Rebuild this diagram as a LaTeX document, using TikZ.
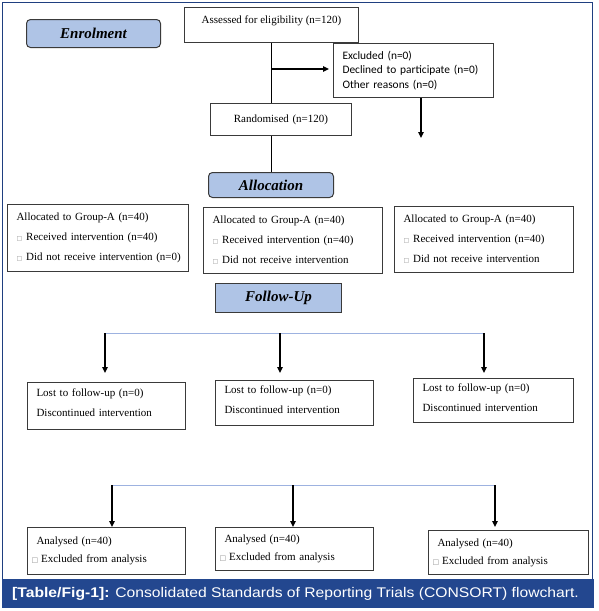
\documentclass[tikz,border=0pt]{standalone}
\usepackage{fontspec}
\setmainfont{Liberation Serif}
\newfontfamily\calib{Carlito}
\newfontfamily\capfont[FakeStretch=1.12]{Liberation Sans}
\newfontfamily\symfont{DejaVu Sans}
\usetikzlibrary{arrows.meta}
\definecolor{framecol}{HTML}{1F3F80}
\definecolor{capblue}{HTML}{23478F}
\definecolor{headfill}{HTML}{AFC4E6}
\definecolor{boxgray}{HTML}{3A3A3A}
\definecolor{linkblue}{HTML}{9DB2E0}
\definecolor{cbgray}{HTML}{8A8A8A}
\newcommand\cbx{{\symfont\fontsize{6}{6}\selectfont\color{cbgray}□}\hspace{4pt}}
\newcommand\cby{\hspace*{-5pt}{\symfont\fontsize{7}{7}\selectfont\color{cbgray}□}\hspace{3pt}}
\begin{document}
\begin{tikzpicture}[x=1pt,y=-1pt,
  box/.style={draw=boxgray, line width=1pt, fill=white, inner xsep=9pt, inner ysep=0pt,
    align=left, anchor=north west, font=\fontsize{11}{20}\selectfont},
  head/.style={draw=boxgray, line width=1pt, fill=headfill, anchor=north west,
    font=\fontsize{15}{15}\selectfont\bfseries\itshape, inner sep=0pt},
  conn/.style={draw=black, line width=1.3pt},
  arr/.style={conn, -{Triangle[length=6pt,width=5.5pt]}},
  blueline/.style={draw=linkblue, line width=1pt}]
\useasboundingbox (0,0) rectangle (598,611);
% frame and caption
\draw[framecol, line width=1.5pt] (2.5,579) -- (2.5,2.5) -- (592.5,2.5) -- (592.5,579);
\fill[capblue] (2,579) rectangle (593.5,608);
\node[anchor=west, text=white, inner sep=0pt, font=\capfont\fontsize{14}{16}\selectfont] (cap) at (12,593.5)
  {\textbf{[Table/Fig-1]:} Consolidated Standards of Reporting Trials (CONSORT) flowchart.};
% headers
\node[head, rounded corners=4pt, minimum width=134pt, minimum height=28pt] (enrol) at (26,19) {Enrolment};
\node[head, rounded corners=4pt, minimum width=125pt, minimum height=25pt] (alloc) at (208,172) {Allocation};
\node[head, minimum width=126pt, minimum height=29pt] (follow) at (215,283) {Follow-Up};
% enrolment boxes
\node[box, minimum width=174pt, minimum height=35pt,
  label={[anchor=north, yshift=-5pt, font=\fontsize{11}{13}\selectfont]north:Assessed for eligibility (n=120)}] (assess) at (184,7) {};
\node[box, text width=142pt, minimum height=54pt, font=\calib\fontsize{11.4}{14.5}\selectfont] (excl) at (333,43)
  {\mbox{Excluded (n=0)}\\\mbox{Declined to participate (n=0)}\\\mbox{Other reasons (n=0)}};
\node[box, align=center, text width=123pt, minimum height=32pt] (rand) at (210,103) {Randomised (n=120)};
% allocation boxes
\node[box, text width=163pt, minimum height=67pt] (g1) at (7,204)
  {\mbox{Allocated to Group-A (n=40)}\\\mbox{\cbx Received intervention (n=40)}\\\mbox{\cbx Did not receive intervention (n=0)}};
\node[box, text width=161pt, minimum height=66pt] (g2) at (203,207)
  {\mbox{Allocated to Group-A (n=40)}\\\mbox{\cbx Received intervention (n=40)}\\\mbox{\cbx Did not receive intervention}};
\node[box, text width=161pt, minimum height=66pt] (g3) at (394,206)
  {\mbox{Allocated to Group-A (n=40)}\\\mbox{\cbx Received intervention (n=40)}\\\mbox{\cbx Did not receive intervention}};
% follow-up boxes
\node[box, text width=140pt, minimum height=47pt, text height=2pt] (l1) at (27,382)
  {Lost to follow-up (n=0)\\Discontinued intervention};
\node[box, text width=140pt, minimum height=45pt, text height=2pt] (l2) at (215,380)
  {Lost to follow-up (n=0)\\Discontinued intervention};
\node[box, text width=142pt, minimum height=44pt, text height=2pt] (l3) at (413,378)
  {Lost to follow-up (n=0)\\Discontinued intervention};
% analysis boxes
\node[box, text width=140pt, minimum height=47pt, font=\fontsize{11}{18}\selectfont] (a1) at (27,527)
  {Analysed (n=40)\\\mbox{\cby Excluded from analysis}};
\node[box, text width=140pt, minimum height=43pt, font=\fontsize{11}{18}\selectfont] (a2) at (215,527)
  {Analysed (n=40)\\\mbox{\cby Excluded from analysis}};
\node[box, text width=142pt, minimum height=44pt, font=\fontsize{11}{18}\selectfont] (a3) at (428,530)
  {Analysed (n=40)\\\mbox{\cby Excluded from analysis}};
% enrolment connectors
\draw[conn] (assess.south) -- (assess.south |- rand.north);
\coordinate (br) at (271,69);
\draw[arr, shorten >=4pt] (br) -- (br -| excl.west);
\coordinate (exend) at (421,138);
\draw[arr] (excl.south -| exend) -- (exend);
\draw[conn] (rand.south -| assess.south) -- (alloc.north -| assess.south);
% follow-up connectors
\coordinate (fL) at (105,333);
\coordinate (fM) at (280,333);
\coordinate (fR) at (484,333);
\draw[blueline] (fL) -- (fR);
\draw[arr, shorten >=9pt] (fL) -- (fL |- l1.north);
\draw[arr, shorten >=7pt] (fM) -- (fM |- l2.north);
\draw[arr, shorten >=5pt] (fR) -- (fR |- l3.north);
% analysis connectors
\coordinate (aL) at (112,485);
\coordinate (aM) at (293,485);
\coordinate (aR) at (495,485);
\draw[blueline] (aL) -- (aR);
\draw[arr] (aL) -- (aL |- a1.north);
\draw[arr] (aM) -- (aM |- a2.north);
\draw[arr, shorten >=3pt] (aR) -- (aR |- a3.north);
\end{tikzpicture}
\end{document}
